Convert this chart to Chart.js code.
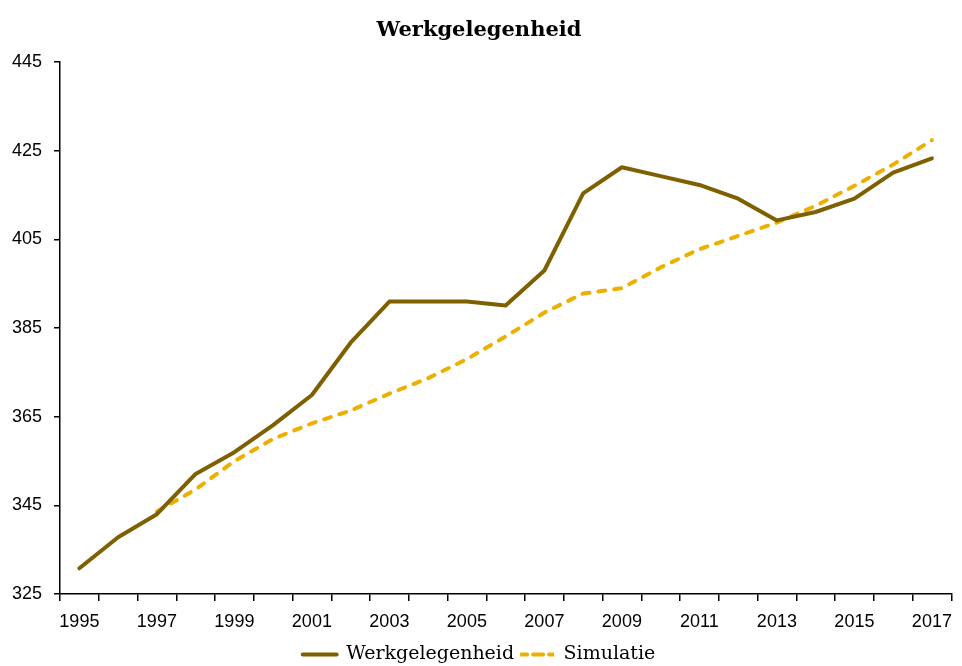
<!DOCTYPE html>
<html>
<head>
<meta charset="utf-8">
<script src="https://cdn.jsdelivr.net/npm/chart.js@4/dist/chart.umd.min.js"></script>
<style>
  html, body { margin: 0; padding: 0; background: #fff; }
  #wrap { width: 962px; height: 666px; }
</style>
</head>
<body>
<div id="wrap"><canvas id="chart" width="962" height="666"></canvas></div>
<script>
// jaren op de x-as
const years = ['1995','1996','1997','1998','1999','2000','2001','2002','2003','2004','2005','2006',
               '2007','2008','2009','2010','2011','2012','2013','2014','2015','2016','2017'];

// waarden
const werkgelegenheid = [330.8, 337.8, 343.0, 352.1, 357.0, 363.1, 369.9, 381.7, 391.0, 391.0, 391.0, 390.1,
                         398.0, 415.4, 421.3, 419.3, 417.3, 414.2, 409.3, 411.2, 414.2, 420.1, 423.3];
const simulatie = [null, null, 343.6, 348.6, 355.0, 360.0, 363.5, 366.4, 370.2, 373.7, 378.0, 383.1,
                   388.5, 392.8, 394.0, 398.7, 402.8, 405.8, 408.8, 412.6, 417.1, 421.9, 427.4];

const yTicks = { min: 325, max: 445, step: 20 };

const serif = "'DejaVu Serif', serif";
const sans = "'Liberation Sans', Arial, sans-serif";

// legenda een stukje lager zetten
const legendShift = {
    id: 'legendShift',
    afterLayout(chart) {
        chart.legend.top += 8;
        chart.legend.bottom += 8;
    }
};

const ctx = document.getElementById('chart').getContext('2d');
new Chart(ctx, {
    type: 'line',
    data: {
        labels: years,
        datasets: [{
            label: 'Werkgelegenheid',
            data: werkgelegenheid,
            borderColor: '#7f6000',
            backgroundColor: '#7f6000',
            borderWidth: 4,
            pointRadius: 0,
            tension: 0,
            borderCapStyle: 'round',
            borderJoinStyle: 'round'
        }, {
            label: 'Simulatie',
            data: simulatie,
            borderColor: '#eeb000',
            backgroundColor: '#eeb000',
            borderWidth: 4,
            borderDash: [7, 9],
            borderCapStyle: 'round',
            pointRadius: 0,
            tension: 0
        }]
    },
    plugins: [legendShift],
    options: {
        responsive: false,
        animation: false,
        layout: { padding: { left: 0, right: 4, top: 0, bottom: 0 } },
        plugins: {
            title: {
                display: true,
                text: 'Werkgelegenheid',
                color: '#000',
                font: { family: serif, size: 21, weight: 'bold' },
                padding: { top: 18, bottom: 19 }
            },
            legend: {
                position: 'bottom',
                labels: {
                    color: '#000',
                    font: { family: serif, size: 19 },
                    boxWidth: 34,
                    boxHeight: 0,
                    padding: 6
                }
            },
            tooltip: { enabled: false }
        },
        scales: {
            x: {
                offset: true,
                grid: {
                    offset: true,
                    drawOnChartArea: false,
                    color: '#000',
                    tickLength: 7,
                    lineWidth: 1.5
                },
                border: { color: '#000', width: 1.5 },
                ticks: {
                    autoSkip: false,
                    maxRotation: 0,
                    color: '#000',
                    font: { family: sans, size: 18 },
                    padding: 10,
                    callback: function (val, i) { return i % 2 === 0 ? this.getLabelForValue(val) : ''; }
                },
                afterFit: s => { s.height = 37; }
            },
            y: {
                min: yTicks.min,
                max: yTicks.max,
                grid: {
                    drawOnChartArea: false,
                    color: '#000',
                    tickLength: 6,
                    lineWidth: 1.5
                },
                border: { color: '#000', width: 1.5 },
                ticks: {
                    stepSize: yTicks.step,
                    color: '#000',
                    font: { family: sans, size: 18 },
                    padding: 12
                },
                afterFit: s => { s.width = 60; }
            }
        }
    }
});
</script>
</body>
</html>
